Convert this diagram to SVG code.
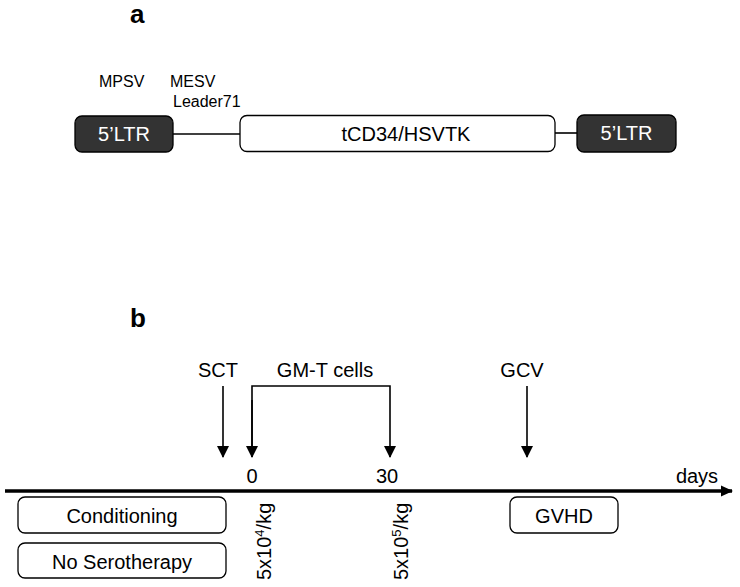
<svg xmlns="http://www.w3.org/2000/svg" width="740" height="587" viewBox="0 0 740 587">
<defs>
<style>
text{font-family:"Liberation Sans",Arial,sans-serif;fill:#000}
.lbl{font-size:20px}
.sm{font-size:16px}
.hd{font-size:26px;font-weight:bold}
.ltr{fill:#333;stroke:#000;stroke-width:1.3}
.box{fill:#fff;stroke:#000;stroke-width:1.3}
.wt{fill:#fff;font-size:20px}
.ln{stroke:#000;stroke-width:1.6;fill:none}
</style>
<marker id="ah" markerWidth="12" markerHeight="12" refX="11" refY="6" orient="auto" markerUnits="userSpaceOnUse">
<path d="M0,0 L12,6 L0,12 Z" fill="#000"/>
</marker>
<marker id="ah2" markerWidth="12" markerHeight="12" refX="11" refY="6" orient="auto" markerUnits="userSpaceOnUse">
<path d="M0,0.5 L12,6 L0,11.5 Z" fill="#000"/>
</marker>
</defs>
<rect width="740" height="587" fill="#fff"/>
<text class="hd" x="130" y="23">a</text>
<text class="hd" x="130" y="327">b</text>
<g id="labels-a">
<text class="sm" x="99" y="87">MPSV</text>
<text class="sm" x="170" y="87">MESV</text>
<text class="sm" x="173" y="107">Leader71</text>
</g>
<g id="connectors">
<line class="ln" x1="173" y1="134" x2="240" y2="134"/>
<line class="ln" x1="555" y1="133" x2="577" y2="133"/>
<line class="ln" x1="223" y1="386" x2="223" y2="457" marker-end="url(#ah)"/>
<polyline class="ln" points="252,457 252,386 390,386 390,457" marker-end="url(#ah)"/>
<line class="ln" x1="252" y1="400" x2="252" y2="457" marker-end="url(#ah)"/>
<line class="ln" x1="527" y1="386" x2="527" y2="457" marker-end="url(#ah)"/>
<line x1="5" y1="491" x2="732" y2="491" stroke="#000" stroke-width="3.5" marker-end="url(#ah2)"/>
</g>
<g id="ltr-left">
<rect class="ltr" x="75" y="116" width="98" height="36" rx="7"/>
<text class="wt" x="124" y="141" text-anchor="middle">5’LTR</text>
</g>
<g id="tcd34">
<rect class="box" x="240" y="115.5" width="315" height="36" rx="7"/>
<text class="lbl" x="406" y="141" text-anchor="middle">tCD34/HSVTK</text>
</g>
<g id="ltr-right">
<rect class="ltr" x="577" y="115" width="99" height="37" rx="7"/>
<text class="wt" x="626.5" y="140" text-anchor="middle">5’LTR</text>
</g>
<g id="sct"><text class="lbl" x="218" y="377" text-anchor="middle">SCT</text></g>
<g id="gmt"><text class="lbl" x="325" y="377" text-anchor="middle">GM-T cells</text></g>
<g id="gcv"><text class="lbl" x="522" y="377" text-anchor="middle">GCV</text></g>
<g id="ticks">
<text class="lbl" x="252" y="483" text-anchor="middle">0</text>
<text class="lbl" x="387" y="483" text-anchor="middle">30</text>
<text class="lbl" x="697" y="483" text-anchor="middle">days</text>
</g>
<g id="conditioning">
<rect class="box" x="18" y="497" width="208" height="36" rx="7"/>
<text class="lbl" x="122" y="523" text-anchor="middle">Conditioning</text>
</g>
<g id="noserotherapy">
<rect class="box" x="18" y="543" width="208" height="35" rx="7"/>
<text class="lbl" x="122" y="569" text-anchor="middle">No Serotherapy</text>
</g>
<g id="gvhd">
<rect class="box" x="510" y="497" width="108" height="36" rx="7"/>
<text class="lbl" x="564" y="523" text-anchor="middle">GVHD</text>
</g>
<g id="dose0">
<text class="lbl" transform="translate(271,580) rotate(-90)">5x10<tspan font-size="13" dy="-7">4</tspan><tspan dy="7">/kg</tspan></text>
</g>
<g id="dose30">
<text class="lbl" transform="translate(408,580) rotate(-90)">5x10<tspan font-size="13" dy="-7">5</tspan><tspan dy="7">/kg</tspan></text>
</g>
</svg>
